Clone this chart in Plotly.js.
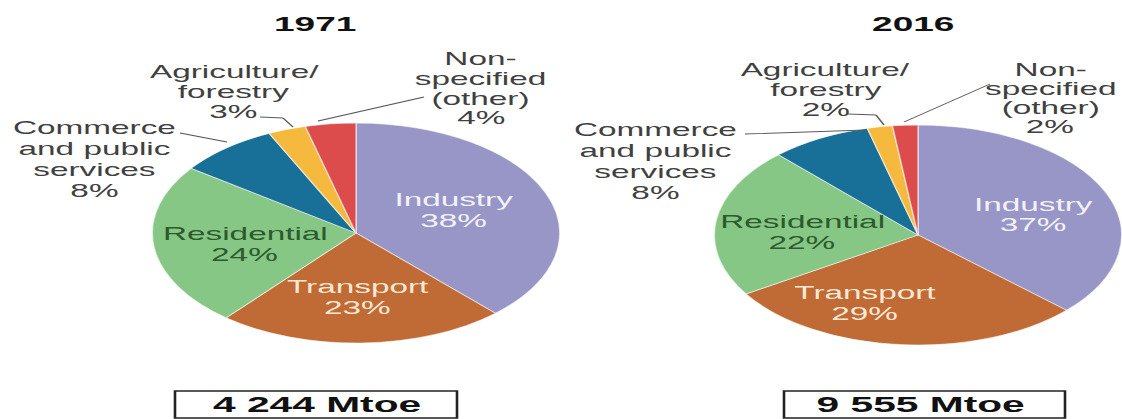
<!DOCTYPE html>
<html>
<head>
<meta charset="utf-8">
<script src="https://cdn.plot.ly/plotly-3.0.1.min.js"></script>
<style>
  html, body { margin: 0; padding: 0; background: #ffffff; overflow: hidden; }
  #wrap { width: 1122px; height: 419px; overflow: hidden; position: relative; }
  #chart { width: 606px; height: 419px; transform: scaleX(1.851485); transform-origin: 0 0; }
</style>
</head>
<body>
<div id="wrap"><div id="chart"></div></div>
<script>
// ---- data ----
const categories = ["Industry", "Transport", "Residential", "Commerce\nand public\nservices", "Agriculture/\nforestry", "Non-\nspecified\n(other)"];
const values1971 = [38, 23, 24, 8, 3, 4];
const values2016 = [37, 29, 22, 8, 2, 2];
const years = ["1971", "2016"];
const totals = ["4 244 Mtoe", "9 555 Mtoe"];

// ---- styles ----
const sliceColors = ["#9896c6", "#c06a36", "#86c786", "#186f98", "#f5b93e", "#dd4c4c"];
const labelColors = ["#f2f2fa", "#fbe9d4", "#2c5a2c", "#404040", "#404040", "#404040"];

// ---- geometry (in final 1122x419 pixel space) ----
const FULL = 1122, W = 606, H = 419;
const pies = [
  { cx: 356, cy: 233, r: 110 },
  { cx: 918, cy: 235, r: 110 }
];
const titlePos = [{ x: 316, y: 24 }, { x: 913, y: 24 }];
const boxPos = [{ x0: 175, x1: 457, y0: 391, y1: 418, tx: 318 }, { x0: 784, x1: 1065, y0: 391, y1: 418, tx: 922 }];
const labelPos = [
  [ { x: 454, ys: [200, 221] }, { x: 357, ys: [287, 308] }, { x: 245, ys: [234, 255] },
    { x: 95, ys: [128, 149, 170, 191] }, { x: 234, ys: [72, 92, 112] }, { x: 481, ys: [59, 79, 99, 118] } ],
  [ { x: 1033, ys: [205, 225] }, { x: 864, ys: [293, 314] }, { x: 802, ys: [222, 243] },
    { x: 656, ys: [130, 151, 172, 193] }, { x: 825, ys: [70, 90, 110] }, { x: 1050, ys: [70, 89, 108, 127] } ]
];
const leaders = [
  [ [[180, 133], [227, 142]], [[260, 117], [283, 118], [293, 127]], [[318, 121], [424, 97]] ],
  [ [[745, 134], [866, 130]], [[848, 114], [876, 115], [884, 125]], [[904, 122], [990, 84]] ]
];

function ax(x) { return x / FULL; }
function ay(y) { return 1 - y / H; }

const seriesValues = [values1971, values2016];
const names = categories.map(c => c.replace(/\n/g, " "));

const data = pies.map((p, k) => ({
  type: "pie",
  labels: names,
  values: seriesValues[k],
  sort: false,
  direction: "clockwise",
  rotation: 0,
  textinfo: "none",
  hoverinfo: "label+percent",
  showlegend: false,
  marker: { colors: sliceColors, line: { color: "rgba(255,255,255,0.55)", width: 0.8 } },
  domain: {
    x: [ax(p.cx) - p.r / W, ax(p.cx) + p.r / W],
    y: [ay(p.cy + p.r), ay(p.cy - p.r)]
  }
}));

const annotations = [];
const shapes = [];
const FONT = "Liberation Sans, Arial, sans-serif";

for (let k = 0; k < 2; k++) {
  annotations.push({
    text: "<b>" + years[k] + "</b>", x: ax(titlePos[k].x), y: ay(titlePos[k].y),
    xref: "paper", yref: "paper", showarrow: false, xanchor: "center", yanchor: "middle",
    font: { family: FONT, size: 20, color: "#111111" }
  });
  categories.forEach((cat, i) => {
    const lines = cat.split("\n").concat([seriesValues[k][i] + "%"]);
    const pos = labelPos[k][i];
    lines.forEach((ln, j) => {
      annotations.push({
        text: ln, x: ax(pos.x), y: ay(pos.ys[j]),
        xref: "paper", yref: "paper", showarrow: false, xanchor: "center", yanchor: "middle",
        font: { family: FONT, size: 18, color: labelColors[i] }
      });
    });
  });
  const b = boxPos[k];
  shapes.push({
    type: "rect", xref: "paper", yref: "paper",
    x0: ax(b.x0), x1: ax(b.x1), y0: ay(b.y1), y1: ay(b.y0),
    line: { color: "#222222", width: 1.4 }, fillcolor: "rgba(0,0,0,0)"
  });
  annotations.push({
    text: "<b>" + totals[k] + "</b>", x: ax(b.tx), y: ay((b.y0 + b.y1) / 2),
    xref: "paper", yref: "paper", showarrow: false, xanchor: "center", yanchor: "middle",
    font: { family: FONT, size: 22, color: "#111111" }
  });
  leaders[k].forEach(seg => {
    for (let j = 0; j < seg.length - 1; j++) {
      shapes.push({
        type: "line", xref: "paper", yref: "paper",
        x0: ax(seg[j][0]), y0: ay(seg[j][1]), x1: ax(seg[j + 1][0]), y1: ay(seg[j + 1][1]),
        line: { color: "#5a5a5a", width: 0.9 }
      });
    }
  });
}

const layout = {
  width: W, height: H, autosize: false,
  margin: { l: 0, r: 0, t: 0, b: 0, pad: 0 },
  paper_bgcolor: "#ffffff", plot_bgcolor: "#ffffff",
  showlegend: false,
  annotations: annotations,
  shapes: shapes
};

Plotly.newPlot("chart", data, layout, { staticPlot: true, displayModeBar: false });
</script>
</body>
</html>
